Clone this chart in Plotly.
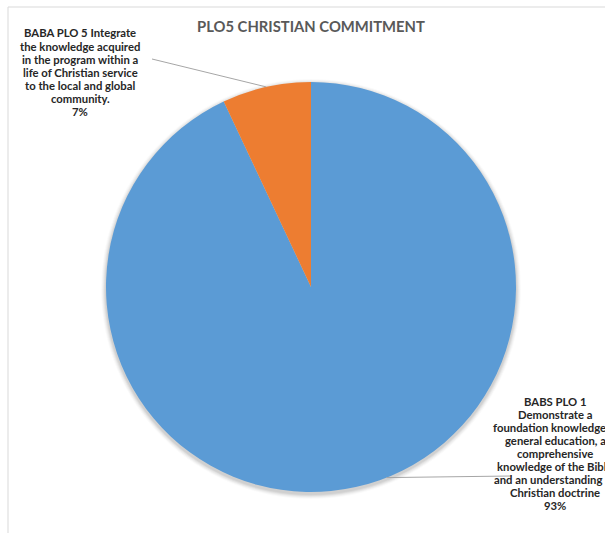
import math
import plotly.graph_objects as go

# Chart data
categories = [
    "BABS PLO 1 Demonstrate a foundation knowledge in general education, a comprehensive knowledge of the Bible and an understanding of Christian doctrine",
    "BABA PLO 5 Integrate the knowledge acquired in the program within a life of Christian service to the local and global community.",
]
values = [93, 7]
colors = ["#5B9BD5", "#ED7D31"]
title_text = "PLO5 CHRISTIAN COMMITMENT"

# Wrapped label text as it appears beside the pie
label_lines = [
    ["BABS PLO 1", "Demonstrate a", "foundation knowledge in", "general education, a",
     "comprehensive", "knowledge of the Bible", "and an understanding of", "Christian doctrine"],
    ["BABA PLO 5 Integrate", "the knowledge acquired", "in the program within a",
     "life of Christian service", "to the local and global", "community."],
]

W, H = 605, 533
cx, cy, r = 311, 287, 205  # pie centre / radius in pixels (from top-left)

def px(x):
    return x / W

def py(y):
    return 1 - y / H

total = sum(values)
pcts = [round(v / total * 100) for v in values]

fig = go.Figure()

fig.add_trace(go.Pie(
    labels=categories,
    values=values,
    marker=dict(colors=colors, line=dict(width=0)),
    sort=False,
    direction="clockwise",
    rotation=0,
    textinfo="none",
    hoverinfo="label+percent",
    showlegend=False,
    domain=dict(x=[px(cx - r), px(cx + r)], y=[py(cy + r), py(cy - r)]),
))

# Soft drop shadow around the pie
shapes = []
for i, a in enumerate([0.05, 0.05, 0.04, 0.03, 0.02]):
    rr = r + i + 1
    oy = 2
    shapes.append(dict(
        type="circle", xref="paper", yref="paper", layer="below",
        x0=px(cx - rr), x1=px(cx + rr), y0=py(cy + oy + rr), y1=py(cy + oy - rr),
        fillcolor=f"rgba(0,0,0,{a})", line=dict(width=0),
    ))

# Chart-area border (runs off the right and bottom)
shapes.append(dict(
    type="rect", xref="paper", yref="paper", layer="below",
    x0=px(8), x1=1.2, y0=-0.2, y1=py(7),
    line=dict(color="#D9D9D9", width=1), fillcolor="rgba(0,0,0,0)",
))

def edge_point(frac_clockwise):
    ang = 2 * math.pi * frac_clockwise
    return cx + r * math.sin(ang), cy - r * math.cos(ang)

# Leader line for the small slice: from its mid-angle on the rim to the label
cum = 0
mids = []
for v in values:
    mids.append((cum + v / 2) / total)
    cum += v
ex, ey = edge_point(mids[1])
shapes.append(dict(type="line", xref="paper", yref="paper",
                   x0=px(152), y0=py(59), x1=px(ex), y1=py(ey),
                   line=dict(color="#A6A6A6", width=1)))
# Leader line for the large slice
bx, by = edge_point(0.44)
shapes.append(dict(type="line", xref="paper", yref="paper",
                   x0=px(bx), y0=py(by), x1=px(512), y1=py(476),
                   line=dict(color="#A6A6A6", width=1)))

label_font = dict(family="Lato, Open Sans, sans-serif", size=11.3, color="#262626")
LINE_H = 13.1

annotations = [
    dict(text=title_text, xref="paper", yref="paper", x=px(311), y=py(26),
         xanchor="center", yanchor="middle", showarrow=False,
         font=dict(family="Lato, Open Sans, sans-serif", size=14.8,
                   color="#595959", weight="bold")),
]

def add_label(lines, x, y_first):
    for k, line in enumerate(lines):
        annotations.append(dict(
            text=f"<b>{line}</b>", xref="paper", yref="paper",
            x=px(x), y=py(y_first + k * LINE_H),
            xanchor="center", yanchor="middle", showarrow=False,
            font=label_font,
        ))

add_label(label_lines[1] + [f"{pcts[1]}%"], 80, 33)
add_label(label_lines[0] + [f"{pcts[0]}%"], 555, 401)

fig.update_layout(
    width=W, height=H,
    margin=dict(l=0, r=0, t=0, b=0),
    paper_bgcolor="white", plot_bgcolor="white",
    shapes=shapes, annotations=annotations,
)

fig.write_html("out.html")
